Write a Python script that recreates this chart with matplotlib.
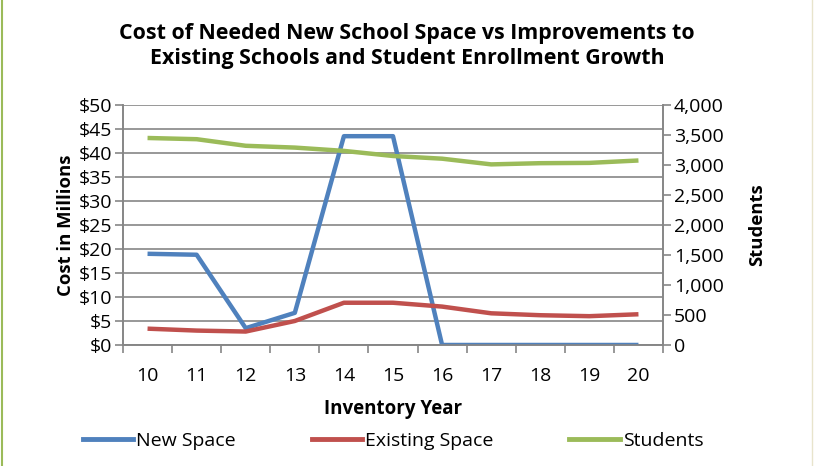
import matplotlib.pyplot as plt
from matplotlib.ticker import FuncFormatter, MultipleLocator, FixedLocator
from matplotlib.lines import Line2D

plt.rcParams['font.family'] = ['Open Sans', 'DejaVu Sans']

years = ['10', '11', '12', '13', '14', '15', '16', '17', '18', '19', '20']
new_space = [19.0, 18.8, 3.5, 6.7, 43.5, 43.5, 0, 0, 0, 0, 0]
existing_space = [3.4, 3.0, 2.8, 5.0, 8.8, 8.8, 8.0, 6.6, 6.2, 6.0, 6.4]
students = [3450, 3430, 3320, 3290, 3235, 3150, 3105, 3010, 3030, 3035, 3075]

blue = '#4F81BD'
red = '#C0504D'
green = '#9BBB59'
grid_c = '#868686'

fig = plt.figure(figsize=(8.14, 4.66), dpi=100)
ax = fig.add_axes([0.1511, 0.2597, 0.6634, 0.515])
ax2 = ax.twinx()

x = list(range(len(years)))
ax.plot(x, new_space, color=blue, lw=3.2, solid_capstyle='butt', zorder=3)
ax.plot(x, existing_space, color=red, lw=3.2, solid_capstyle='butt', zorder=3)
ax2.plot(x, students, color=green, lw=3.2, solid_capstyle='butt', zorder=3)

ax.set_xlim(-0.5, 10.5)
ax.set_ylim(0, 50)
ax2.set_ylim(0, 4000)
ax.yaxis.set_major_locator(MultipleLocator(5))
ax2.yaxis.set_major_locator(MultipleLocator(500))
ax.yaxis.set_major_formatter(FuncFormatter(lambda v, p: f'${v:.0f}'))
ax2.yaxis.set_major_formatter(FuncFormatter(lambda v, p: f'{v:,.0f}'))

ax.xaxis.set_major_locator(FixedLocator([i - 0.5 for i in range(12)]))
ax.xaxis.set_minor_locator(FixedLocator(x))
ax.set_xticklabels([])
ax.set_xticklabels(years, minor=True)
ax.tick_params(axis='x', which='major', length=6, width=1.2, color=grid_c)
ax.tick_params(axis='x', which='minor', length=0, labelsize=14, pad=16)
ax.tick_params(axis='y', length=6, width=1.2, color=grid_c, labelsize=14, pad=2)
ax2.tick_params(axis='y', length=6, width=1.2, color=grid_c, labelsize=14, pad=2)

ax.grid(axis='y', color=grid_c, lw=1.2)
ax.set_axisbelow(True)
for a in (ax, ax2):
    a.spines['top'].set_visible(False)
    for s in ('left', 'right', 'bottom'):
        a.spines[s].set_color(grid_c)
        a.spines[s].set_linewidth(1.2)

ax.set_ylabel('Cost in Millions', fontsize=13.3, fontweight='bold', labelpad=2)
ax2.set_ylabel('Students', fontsize=13.3, fontweight='bold', labelpad=17)
ax.set_xlabel('Inventory Year', fontsize=13.5, fontweight='bold', labelpad=10)

fig.text(0.5, 0.902, 'Cost of Needed New School Space vs Improvements to\n'
         'Existing Schools and Student Enrollment Growth',
         ha='center', va='center', fontsize=15.4, fontweight='bold', linespacing=1.25)

handles = [Line2D([], [], color=c, lw=3.5) for c in (blue, red, green)]
fig.legend(handles, ['New Space', 'Existing Space', 'Students'], loc='center',
           bbox_to_anchor=(0.483, 0.053), ncol=3, frameon=False, fontsize=14,
           handlelength=2.6, handletextpad=0.15, columnspacing=3.9)

fig.add_artist(Line2D([0.003, 0.003], [0, 1], color=green, lw=1.5, transform=fig.transFigure))
fig.add_artist(Line2D([0.998, 0.998], [0, 1], color='#E8E4CC', lw=1.0, transform=fig.transFigure))

fig.savefig('out.png', dpi=100)
